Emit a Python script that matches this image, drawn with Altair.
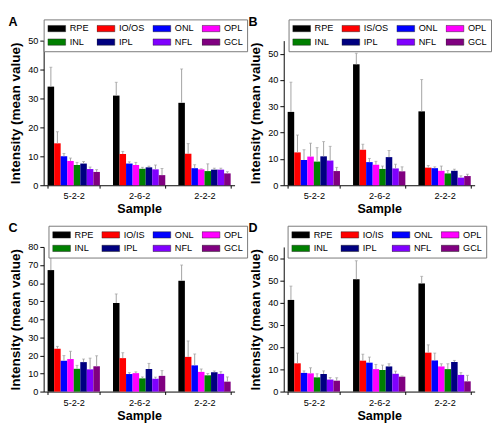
import altair as alt
import pandas as pd

FONT = "Liberation Sans"

samples = ["5-2-2", "2-6-2", "2-2-2"]
colors = ["#000000", "#FF0000", "#0000FF", "#FF00FF", "#008000", "#000080", "#8000FF", "#800080"]

layers_A = ["RPE", "IO/OS", "ONL", "OPL", "INL", "IPL", "NFL", "GCL"]
layers_B = ["RPE", "IS/OS", "ONL", "OPL", "INL", "IPL", "NFL", "GCL"]
layers_C = ["RPE", "IO/IS", "ONL", "OPL", "INL", "IPL", "NFL", "GCL"]
layers_D = ["RPE", "IO/IS", "ONL", "OPL", "INL", "IPL", "NFL", "GCL"]

# mean values, one list per sample (5-2-2, 2-6-2, 2-2-2)
mean_A = [[34.1, 14.5, 10.0, 8.4, 7.0, 7.5, 5.6, 4.6],
          [31.0, 10.8, 7.5, 7.0, 5.7, 6.2, 5.5, 3.5],
          [28.5, 10.9, 5.9, 5.5, 4.9, 5.4, 5.4, 4.1]]
err_A = [[6.7, 4.0, 1.0, 1.0, 0.9, 0.7, 0.7, 0.8],
         [4.6, 0.9, 0.6, 0.9, 0.5, 0.4, 1.5, 2.3],
         [11.7, 3.5, 1.2, 0.2, 2.5, 0.5, 0.5, 0.6]]

mean_B = [[27.9, 12.5, 9.6, 10.9, 9.0, 11.0, 9.4, 5.4],
          [46.0, 13.5, 8.8, 7.8, 6.2, 10.7, 6.4, 5.3],
          [28.1, 6.7, 6.5, 5.5, 4.5, 5.5, 2.9, 3.5]]
err_B = [[11.3, 6.6, 3.9, 5.1, 5.3, 5.6, 5.4, 1.4],
         [4.2, 2.1, 1.4, 1.3, 1.1, 2.5, 1.6, 1.7],
         [12.1, 0.8, 0.5, 1.8, 1.1, 0.6, 0.7, 0.7]]

mean_C = [[67.2, 23.7, 17.1, 18.0, 12.6, 16.3, 12.3, 14.0],
          [49.0, 18.5, 9.7, 10.2, 7.3, 12.5, 7.1, 8.7],
          [61.3, 19.2, 14.5, 10.9, 9.0, 10.7, 9.8, 5.5]]
err_C = [[9.8, 1.3, 2.8, 4.3, 1.9, 1.7, 6.2, 5.8],
         [5.0, 3.0, 0.8, 0.7, 0.8, 3.1, 0.9, 2.9],
         [8.7, 8.8, 6.3, 1.6, 1.0, 0.7, 1.2, 2.6]]

mean_D = [[41.2, 12.7, 8.4, 8.2, 6.4, 7.9, 5.4, 4.9],
          [50.5, 13.9, 13.0, 10.1, 9.7, 11.3, 8.0, 6.7],
          [48.6, 17.5, 14.0, 11.3, 10.1, 13.3, 7.5, 4.6]]
err_D = [[6.2, 4.6, 0.9, 2.5, 1.6, 1.4, 0.9, 1.3],
         [8.3, 2.9, 2.5, 2.1, 2.2, 1.2, 1.2, 0.3],
         [3.2, 3.5, 3.3, 1.2, 2.4, 0.7, 1.0, 2.7]]

W = 198
H = 150


def panel(letter, layers, means, errs, ymax, yticks, legend_x):
    rows = []
    for si, s in enumerate(samples):
        for li, lay in enumerate(layers):
            rows.append({"Sample": s, "Layer": lay, "Order": li,
                         "Mean": means[si][li], "Top": means[si][li] + errs[si][li]})
    df = pd.DataFrame(rows)

    xaxis = alt.Axis(title="Sample", labelAngle=0, tickBand="extent", tickSize=3,
                     labelPadding=3, titlePadding=3, labelFontSize=9.5,
                     titleFontSize=13, titleFontWeight="bold")
    yaxis = alt.Axis(title="Intensity (mean value)", values=yticks, tickSize=4,
                     labelPadding=2, titlePadding=6, labelFontSize=9.5,
                     titleFontSize=14, titleFontWeight="bold", grid=False)
    yscale = alt.Scale(domain=[0, ymax], nice=False)

    base = alt.Chart(df).encode(
        x=alt.X("Sample:N", sort=samples,
                scale=alt.Scale(paddingInner=0.2, paddingOuter=0.06), axis=xaxis),
        xOffset=alt.XOffset("Order:O", scale=alt.Scale(paddingInner=0, paddingOuter=0)),
    )
    bars = base.mark_bar().encode(
        y=alt.Y("Mean:Q", scale=yscale, axis=yaxis),
        color=alt.Color("Layer:N", sort=layers,
                        scale=alt.Scale(domain=layers, range=colors),
                        legend=alt.Legend(title=None, orient="none", legendX=legend_x, legendY=-22,
                                          direction="horizontal", columns=4,
                                          symbolType="M-1,-0.35H1V0.35H-1Z",
                                          symbolSize=342, clipHeight=11,
                                          labelFontSize=9.5, labelFont=FONT,
                                          labelColor="black", fillColor="white",
                                          strokeColor="#777", padding=4, columnPadding=8,
                                          rowPadding=3, labelOffset=4,
                                          symbolStrokeColor="#222", symbolStrokeWidth=0.5,
                                          gridAlign="each")),
    )
    rules = base.mark_rule(color="#a0a0a0", strokeWidth=1).encode(
        y=alt.Y("Mean:Q", scale=yscale, axis=yaxis), y2="Top:Q")
    caps = base.mark_tick(color="#a0a0a0", orient="horizontal", size=3, thickness=1).encode(
        y=alt.Y("Top:Q", scale=yscale, axis=yaxis))
    return alt.layer(bars, rules, caps).properties(
        width=W, height=H,
        title=alt.TitleParams(text=letter, anchor="start", frame="bounds", fontSize=13,
                              fontWeight="bold", font=FONT, offset=-3, dy=7, color="black"))


pA = panel("A", layers_A, mean_A, err_A, 50, [0, 10, 20, 30, 40, 50], 0)
pB = panel("B", layers_B, mean_B, err_B, 55, [0, 10, 20, 30, 40, 50], 5)
pC = panel("C", layers_C, mean_C, err_C, 80, [0, 10, 20, 30, 40, 50, 60, 70, 80], 5)
pD = panel("D", layers_D, mean_D, err_D, 65, [0, 10, 20, 30, 40, 50, 60], 4)

chart = alt.concat(pA, pB, pC, pD, columns=2, spacing={"row": 64, "column": 51},
                   bounds="flush").resolve_scale(
    color="independent").resolve_legend(color="independent").properties(
    padding=0).configure_view(stroke=None).configure_axis(
    labelFont=FONT, titleFont=FONT, labelColor="black", titleColor="black",
    domainColor="black", tickColor="black").configure_legend(labelFont=FONT)

chart.save("out.html", embed_options={"renderer": "svg", "actions": False})
